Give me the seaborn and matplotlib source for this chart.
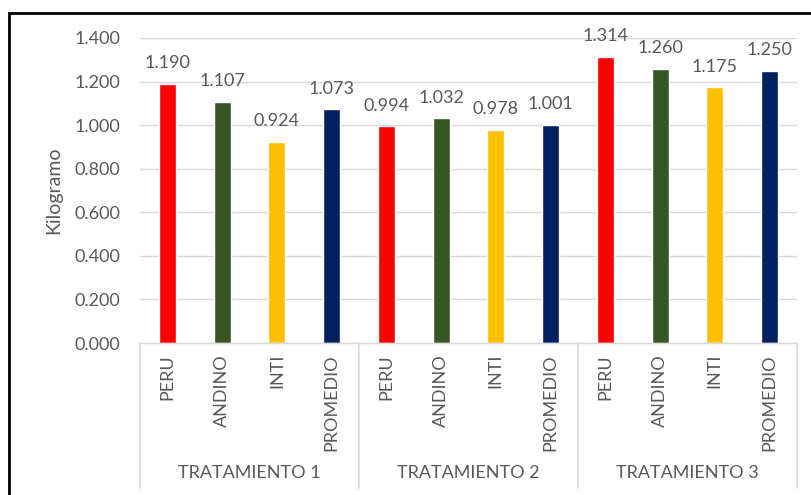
import pandas as pd
import matplotlib.pyplot as plt
import seaborn as sns
from matplotlib.patches import Rectangle

# ---- datos ----
tratamientos = ['TRATAMIENTO 1', 'TRATAMIENTO 2', 'TRATAMIENTO 3']
variedades = ['PERU', 'ANDINO', 'INTI', 'PROMEDIO']
t1 = [1.190, 1.107, 0.924, 1.073]
t2 = [0.994, 1.032, 0.978, 1.001]
t3 = [1.314, 1.260, 1.175, 1.250]
colores = ['#FF0000', '#375623', '#FFC000', '#002060']

filas = []
for trat, valores in zip(tratamientos, [t1, t2, t3]):
    for var, v in zip(variedades, valores):
        filas.append({'clave': f'{trat}|{var}', 'tratamiento': trat,
                      'variedad': var, 'kg': v})
df = pd.DataFrame(filas)

sns.set_theme(style='white')
plt.rcParams['font.family'] = ['Lato', 'DejaVu Sans']
gris = '#595959'
linea = '#D9D9D9'

fig = plt.figure(figsize=(8.12, 4.95), dpi=100)
ax = fig.add_axes([140 / 812, 1 - 343 / 495, 657 / 812, 305 / 495])

sns.barplot(data=df, x='clave', y='kg', hue='variedad', palette=colores,
            dodge=False, width=0.31, legend=False, ax=ax, saturation=1)

for cont in ax.containers:
    ax.bar_label(cont, fmt='%.3f', padding=9, fontsize=13, color=gris)

ax.set_ylim(0, 1.4)
ax.set_xlim(-0.5, len(df) - 0.5)
ax.set_yticks([i * 0.2 for i in range(8)])
ax.set_yticklabels([f'{i * 0.2:.3f}' for i in range(8)], fontsize=13, color=gris)
ax.tick_params(axis='y', length=0, pad=14)
ax.set_xticks(range(len(df)))
ax.set_xticklabels(df['variedad'], rotation=90, fontsize=13, color=gris)
ax.tick_params(axis='x', length=0, pad=8)
ax.set_xlabel('')
ax.set_ylabel('Kilogramo', fontsize=14, color=gris)
ax.yaxis.set_label_coords(-0.118, 0.5)
ax.grid(axis='y', color=linea, linewidth=1)
ax.set_axisbelow(True)
for s in ['left', 'right', 'top']:
    ax.spines[s].set_visible(False)
ax.spines['bottom'].set_color(linea)
ax.spines['bottom'].set_linewidth(1)

# etiquetas de grupo y separadores
trans = ax.get_xaxis_transform()
n = len(variedades)
for g, trat in enumerate(tratamientos):
    centro = g * n + (n - 1) / 2
    ax.text(centro, -0.425, trat, transform=trans, ha='center', va='center',
            fontsize=13, color=gris)
for g in range(len(tratamientos) + 1):
    xs = g * n - 0.5
    ax.plot([xs, xs], [0, -0.476], transform=trans, color=linea,
            linewidth=1.2, clip_on=False)

# marco negro
fig.patches.append(Rectangle((9 / 812, -0.05), 1.1, 1 - 13 / 495 + 0.05,
                             transform=fig.transFigure, fill=False,
                             edgecolor='black', linewidth=2))

plt.savefig('out.png', dpi=100)
